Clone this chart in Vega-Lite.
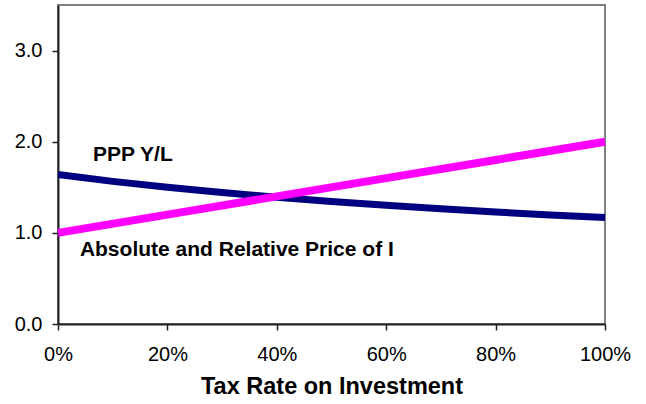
{
  "$schema": "https://vega.github.io/schema/vega-lite/v6.json",
  "autosize": "none",
  "width": 547,
  "height": 319,
  "padding": {"left": 58, "top": 5, "right": 41, "bottom": 80},
  "background": "white",
  "config": {
    "view": {"stroke": "#808080", "strokeWidth": 2},
    "font": "Liberation Sans",
    "axis": {
      "grid": false,
      "domainColor": "#222222",
      "domainWidth": 2,
      "tickColor": "#222222",
      "tickWidth": 1.5,
      "tickSize": 6,
      "labelFont": "Liberation Sans",
      "labelFontSize": 20,
      "labelColor": "black",
      "labelFlush": false,
      "labelOverlap": false,
      "labelBound": false,
      "titleFont": "Liberation Sans",
      "titleColor": "black"
    }
  },
  "datasets": {
    "lines": [
      {"tax": 0.0, "value": 1.64, "series": "PPP Y/L"},
      {"tax": 0.1, "value": 1.565, "series": "PPP Y/L"},
      {"tax": 0.2, "value": 1.50, "series": "PPP Y/L"},
      {"tax": 0.3, "value": 1.442, "series": "PPP Y/L"},
      {"tax": 0.4, "value": 1.391, "series": "PPP Y/L"},
      {"tax": 0.5, "value": 1.344, "series": "PPP Y/L"},
      {"tax": 0.6, "value": 1.303, "series": "PPP Y/L"},
      {"tax": 0.7, "value": 1.264, "series": "PPP Y/L"},
      {"tax": 0.8, "value": 1.229, "series": "PPP Y/L"},
      {"tax": 0.9, "value": 1.197, "series": "PPP Y/L"},
      {"tax": 1.0, "value": 1.168, "series": "PPP Y/L"},
      {"tax": 0.0, "value": 1.0, "series": "Price of I"},
      {"tax": 0.2, "value": 1.2, "series": "Price of I"},
      {"tax": 0.4, "value": 1.4, "series": "Price of I"},
      {"tax": 0.6, "value": 1.6, "series": "Price of I"},
      {"tax": 0.8, "value": 1.8, "series": "Price of I"},
      {"tax": 1.0, "value": 2.0, "series": "Price of I"}
    ],
    "labels": [
      {"tax": 0.064, "value": 1.85, "text": "PPP Y/L"},
      {"tax": 0.04, "value": 0.81, "text": "Absolute and Relative Price of I"}
    ]
  },
  "layer": [
    {
      "data": {"name": "lines"},
      "mark": {"type": "line", "strokeCap": "butt"},
      "encoding": {
        "x": {
          "field": "tax", "type": "quantitative",
          "scale": {"domain": [0, 1], "nice": false},
          "axis": {
            "values": [0, 0.2, 0.4, 0.6, 0.8, 1.0],
            "format": ".0%",
            "labelPadding": 14,
            "title": "Tax Rate on Investment",
            "titleFontSize": 23.5,
            "titleFontWeight": "bold",
            "titlePadding": 10
          }
        },
        "y": {
          "field": "value", "type": "quantitative",
          "scale": {"domain": [0, 3.5], "nice": false},
          "axis": {
            "values": [0, 1, 2, 3],
            "format": ".1f",
            "labelPadding": 10,
            "title": null
          }
        },
        "color": {
          "field": "series", "type": "nominal",
          "scale": {"domain": ["PPP Y/L", "Price of I"], "range": ["#000080", "#FF00FF"]},
          "legend": null
        },
        "strokeWidth": {
          "field": "series", "type": "nominal",
          "scale": {"domain": ["PPP Y/L", "Price of I"], "range": [7, 8]},
          "legend": null
        },
        "order": {"field": "tax", "type": "quantitative"}
      }
    },
    {
      "data": {"name": "labels"},
      "mark": {"type": "text", "align": "left", "baseline": "middle", "fontWeight": "bold", "fontSize": 21, "color": "black", "font": "Liberation Sans"},
      "encoding": {
        "x": {"field": "tax", "type": "quantitative"},
        "y": {"field": "value", "type": "quantitative"},
        "text": {"field": "text"}
      }
    }
  ]
}
